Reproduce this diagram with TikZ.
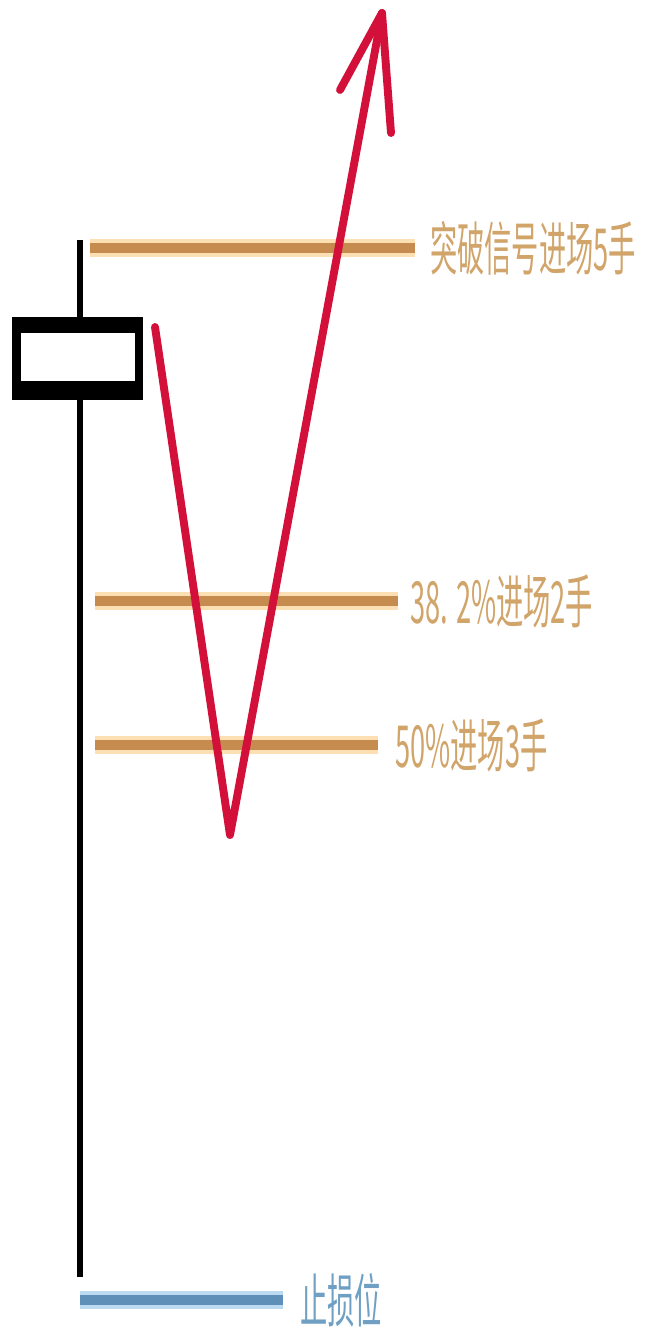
\documentclass[tikz,border=0pt]{standalone}
\usepackage{fontspec}
\newfontfamily\cjk{Noto Sans CJK SC}
\usetikzlibrary{calc}
\usetikzlibrary{positioning}

\definecolor{levelorange}{HTML}{C68B4E}
\definecolor{levelhalo}{HTML}{FCE0B4}
\definecolor{leveltext}{HTML}{D1A46A}
\definecolor{stopblue}{HTML}{5E8FB8}
\definecolor{stophalo}{HTML}{BBDAEF}
\definecolor{stoptext}{HTML}{6FA0C4}
\definecolor{pathred}{HTML}{D2103A}

\tikzset{
  levelline/.style={draw=levelorange, line width=5.7pt, preaction={draw=levelhalo, line width=10pt}},
  stopline/.style={draw=stopblue, line width=5.2pt, preaction={draw=stophalo, line width=10pt}},
  lbl/.style={font=\cjk\fontsize{33pt}{33pt}\selectfont, inner sep=0pt, anchor=west, xscale=0.47},
  pricepath/.style={draw=pathred, line width=4.5pt, line cap=round, line join=round},
}

\begin{document}
\begin{tikzpicture}[x=0.2mm, y=-0.2mm]
        \useasboundingbox (0,0) rectangle (646,1336);

        % Candle: wick and hollow body
        \coordinate (wick_top) at (80,240);
        \coordinate (wick_bottom) at (80,1277);
        \draw [line width=3.4pt] (wick_top) -- (wick_bottom);
        \node [fill=black, inner sep=0pt, minimum width=26.2mm, minimum height=16.6mm] (candle) at (77.5,358.5) {};
        \node [fill=white, inner sep=0pt, minimum width=22.8mm, minimum height=9.6mm] (candle_body) at (78,357) {};

        % Entry levels with their labels
        \foreach \name/\y/\xa/\xb/\gap/\txt in {breakout/248/90/415/3/突破信号进场5手, fib382/601/95/398/2.4/38. 2\%进场2手, fib50/745/95/378/3.4/50\%进场3手} {
            \coordinate (\name_start) at (\xa,\y);
            \coordinate (\name_end) at (\xb,\y);
            \draw [levelline] (\name_start) -- (\name_end);
            \node [lbl, text=leveltext] (\name_label) at ([xshift=\gap mm]\name_end) {\txt};
        }

        % Stop loss level
        \coordinate (stop_start) at (80,1300);
        \coordinate (stop_end) at (283,1300);
        \draw [stopline] (stop_start) -- (stop_end);
        \node [lbl, text=stoptext] (stop_label) at ([xshift=3.4mm]stop_end) {止损位};

        % Price swing: pullback, then breakout arrow
        \coordinate (swing_start) at (155,327);
        \coordinate (swing_low) at (230,835);
        \coordinate (swing_tip) at (382,13);
        \coordinate (barb_left) at (340,90);
        \coordinate (barb_right) at (391,133);
        \draw [pricepath] (swing_start) -- (swing_low) -- (swing_tip);
        \draw [pricepath] (barb_left) -- (swing_tip) -- (barb_right);

\end{tikzpicture}
\end{document}
